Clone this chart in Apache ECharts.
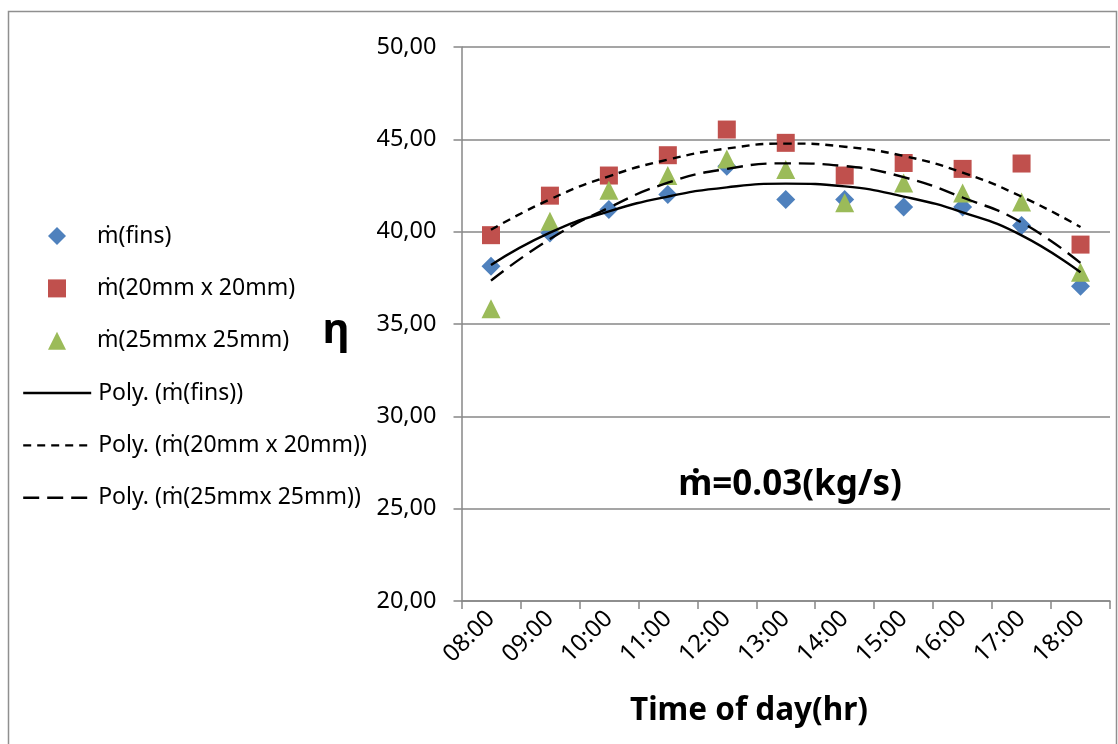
<!DOCTYPE html>
<html>
<head>
<meta charset="utf-8">
<script src="https://cdn.jsdelivr.net/npm/echarts@6/dist/echarts.min.js"></script>
<style>
html,body{margin:0;padding:0;background:#fff;}
#chart{width:1118px;height:744px;}
</style>
</head>
<body>
<div id="chart"></div>
<script>
const categories = ['08:00','09:00','10:00','11:00','12:00','13:00','14:00','15:00','16:00','17:00','18:00'];
const finsVals = [38.13, 39.93, 41.2, 42.01, 43.54, 41.74, 41.74, 41.34, 41.34, 40.33, 37.04];
const mm20Vals = [39.81, 41.95, 43.04, 44.14, 45.53, 44.81, 43.04, 43.72, 43.4, 43.69, 39.3];
const mm25Vals = [35.82, 40.56, 42.24, 43.04, 43.94, 43.36, 41.56, 42.64, 42.1, 41.6, 37.8];
const finsTrend = [38.2, 39.95, 41.1, 41.9, 42.4, 42.6, 42.45, 41.9, 41.05, 39.8, 37.8];
const mm20Trend = [40.1, 41.75, 43.0, 43.9, 44.5, 44.77, 44.6, 44.1, 43.2, 41.9, 40.25];
const mm25Trend = [37.35, 39.6, 41.3, 42.65, 43.4, 43.7, 43.55, 42.95, 41.85, 40.5, 38.3];
const seriesNames = ['ṁ(fins)', 'ṁ(20mm x 20mm)', 'ṁ(25mmx 25mm)', 'Poly. (ṁ(fins))', 'Poly. (ṁ(20mm x 20mm))', 'Poly. (ṁ(25mmx 25mm))'];
const yMin = 20, yMax = 50, yStep = 5;

const FONT = 'Noto Sans';
const GRID = '#878787';
const LW = 2.4;

const chart = echarts.init(document.getElementById('chart'), null, {renderer: 'canvas'});
const option = {
  animation: false,
  backgroundColor: '#ffffff',
  textStyle: {fontFamily: FONT},
  grid: {left: 461.5, right: 8, top: 47, bottom: 143, containLabel: false},
  legend: [
    {
      orient: 'vertical',
      left: 43, top: 219,
      itemWidth: 18, itemHeight: 18,
      itemGap: 28.4,
      data: seriesNames.slice(0, 3),
      textStyle: {fontFamily: FONT, fontSize: 23, color: '#000', lineHeight: 24, padding: [0, 0, 0, 26]}
    },
    {
      orient: 'vertical',
      left: 17, top: 376,
      itemWidth: 68, itemHeight: 18,
      itemGap: 28.4,
      itemStyle: {opacity: 0},
      lineStyle: {width: 2.4},
      data: seriesNames.slice(3),
      textStyle: {fontFamily: FONT, fontSize: 23, color: '#000', lineHeight: 24, padding: [0, 0, 0, 2]}
    }
  ],
  xAxis: {
    type: 'category',
    data: categories,
    boundaryGap: true,
    axisLine: {lineStyle: {color: GRID, width: 1.5}},
    axisTick: {show: true, length: 8, lineStyle: {color: GRID, width: 1.5}},
    axisLabel: {rotate: 45, margin: 14, fontFamily: FONT, fontSize: 24, color: '#000', interval: 0},
    splitLine: {show: false}
  },
  yAxis: {
    type: 'value',
    min: yMin, max: yMax, interval: yStep,
    axisLine: {show: true, lineStyle: {color: GRID, width: 1.5}},
    axisTick: {show: true, length: 8, lineStyle: {color: GRID, width: 1.5}},
    axisLabel: {margin: 25, fontFamily: FONT, fontSize: 23.5, color: '#000',
      formatter: v => v.toFixed(2).replace('.', ',')},
    splitLine: {show: true, lineStyle: {color: GRID, width: 1.5}}
  },
  series: [
    {name: seriesNames[0], type: 'scatter', data: finsVals, symbol: 'diamond', symbolSize: 19,
     itemStyle: {color: '#4F81BD', opacity: 1}},
    {name: seriesNames[1], type: 'scatter', data: mm20Vals, symbol: 'rect', symbolSize: 18,
     itemStyle: {color: '#C0504D', opacity: 1}},
    {name: seriesNames[2], type: 'scatter', data: mm25Vals, symbol: 'triangle', symbolSize: 19,
     itemStyle: {color: '#9BBB59', opacity: 1}},
    {name: seriesNames[3], type: 'line', data: finsTrend, smooth: 0.5, symbol: 'none', showSymbol: false,
     lineStyle: {color: '#000', width: LW, type: 'solid'}, itemStyle: {color: '#000'}},
    {name: seriesNames[4], type: 'line', data: mm20Trend, smooth: 0.5, symbol: 'none', showSymbol: false,
     lineStyle: {color: '#000', width: LW, type: [8, 6]}, itemStyle: {color: '#000'}},
    {name: seriesNames[5], type: 'line', data: mm25Trend, smooth: 0.5, symbol: 'none', showSymbol: false,
     lineStyle: {color: '#000', width: LW, type: [16, 8]}, itemStyle: {color: '#000'}}
  ],
  graphic: [
    {type: 'rect', silent: true, z: -1,
     shape: {x: 8.5, y: 11.5, width: 1108, height: 800},
     style: {fill: 'none', stroke: '#8f8f8f', lineWidth: 1.5}},
    {type: 'text', silent: true, x: 336, y: 331,
     style: {text: 'η', fontFamily: FONT, fontWeight: 'bold', fontSize: 42, fill: '#000',
             align: 'center', verticalAlign: 'middle'}},
    {type: 'text', silent: true, x: 790, y: 485,
     style: {text: 'ṁ=0.03(kg/s)', fontFamily: FONT, fontWeight: 'bold', fontSize: 35, fill: '#000',
             align: 'center', verticalAlign: 'middle'}},
    {type: 'text', silent: true, x: 749, y: 711,
     style: {text: 'Time of day(hr)', fontFamily: FONT, fontWeight: 'bold', fontSize: 31.5, fill: '#000',
             align: 'center', verticalAlign: 'middle'}}
  ]
};
chart.setOption(option);
</script>
</body>
</html>
